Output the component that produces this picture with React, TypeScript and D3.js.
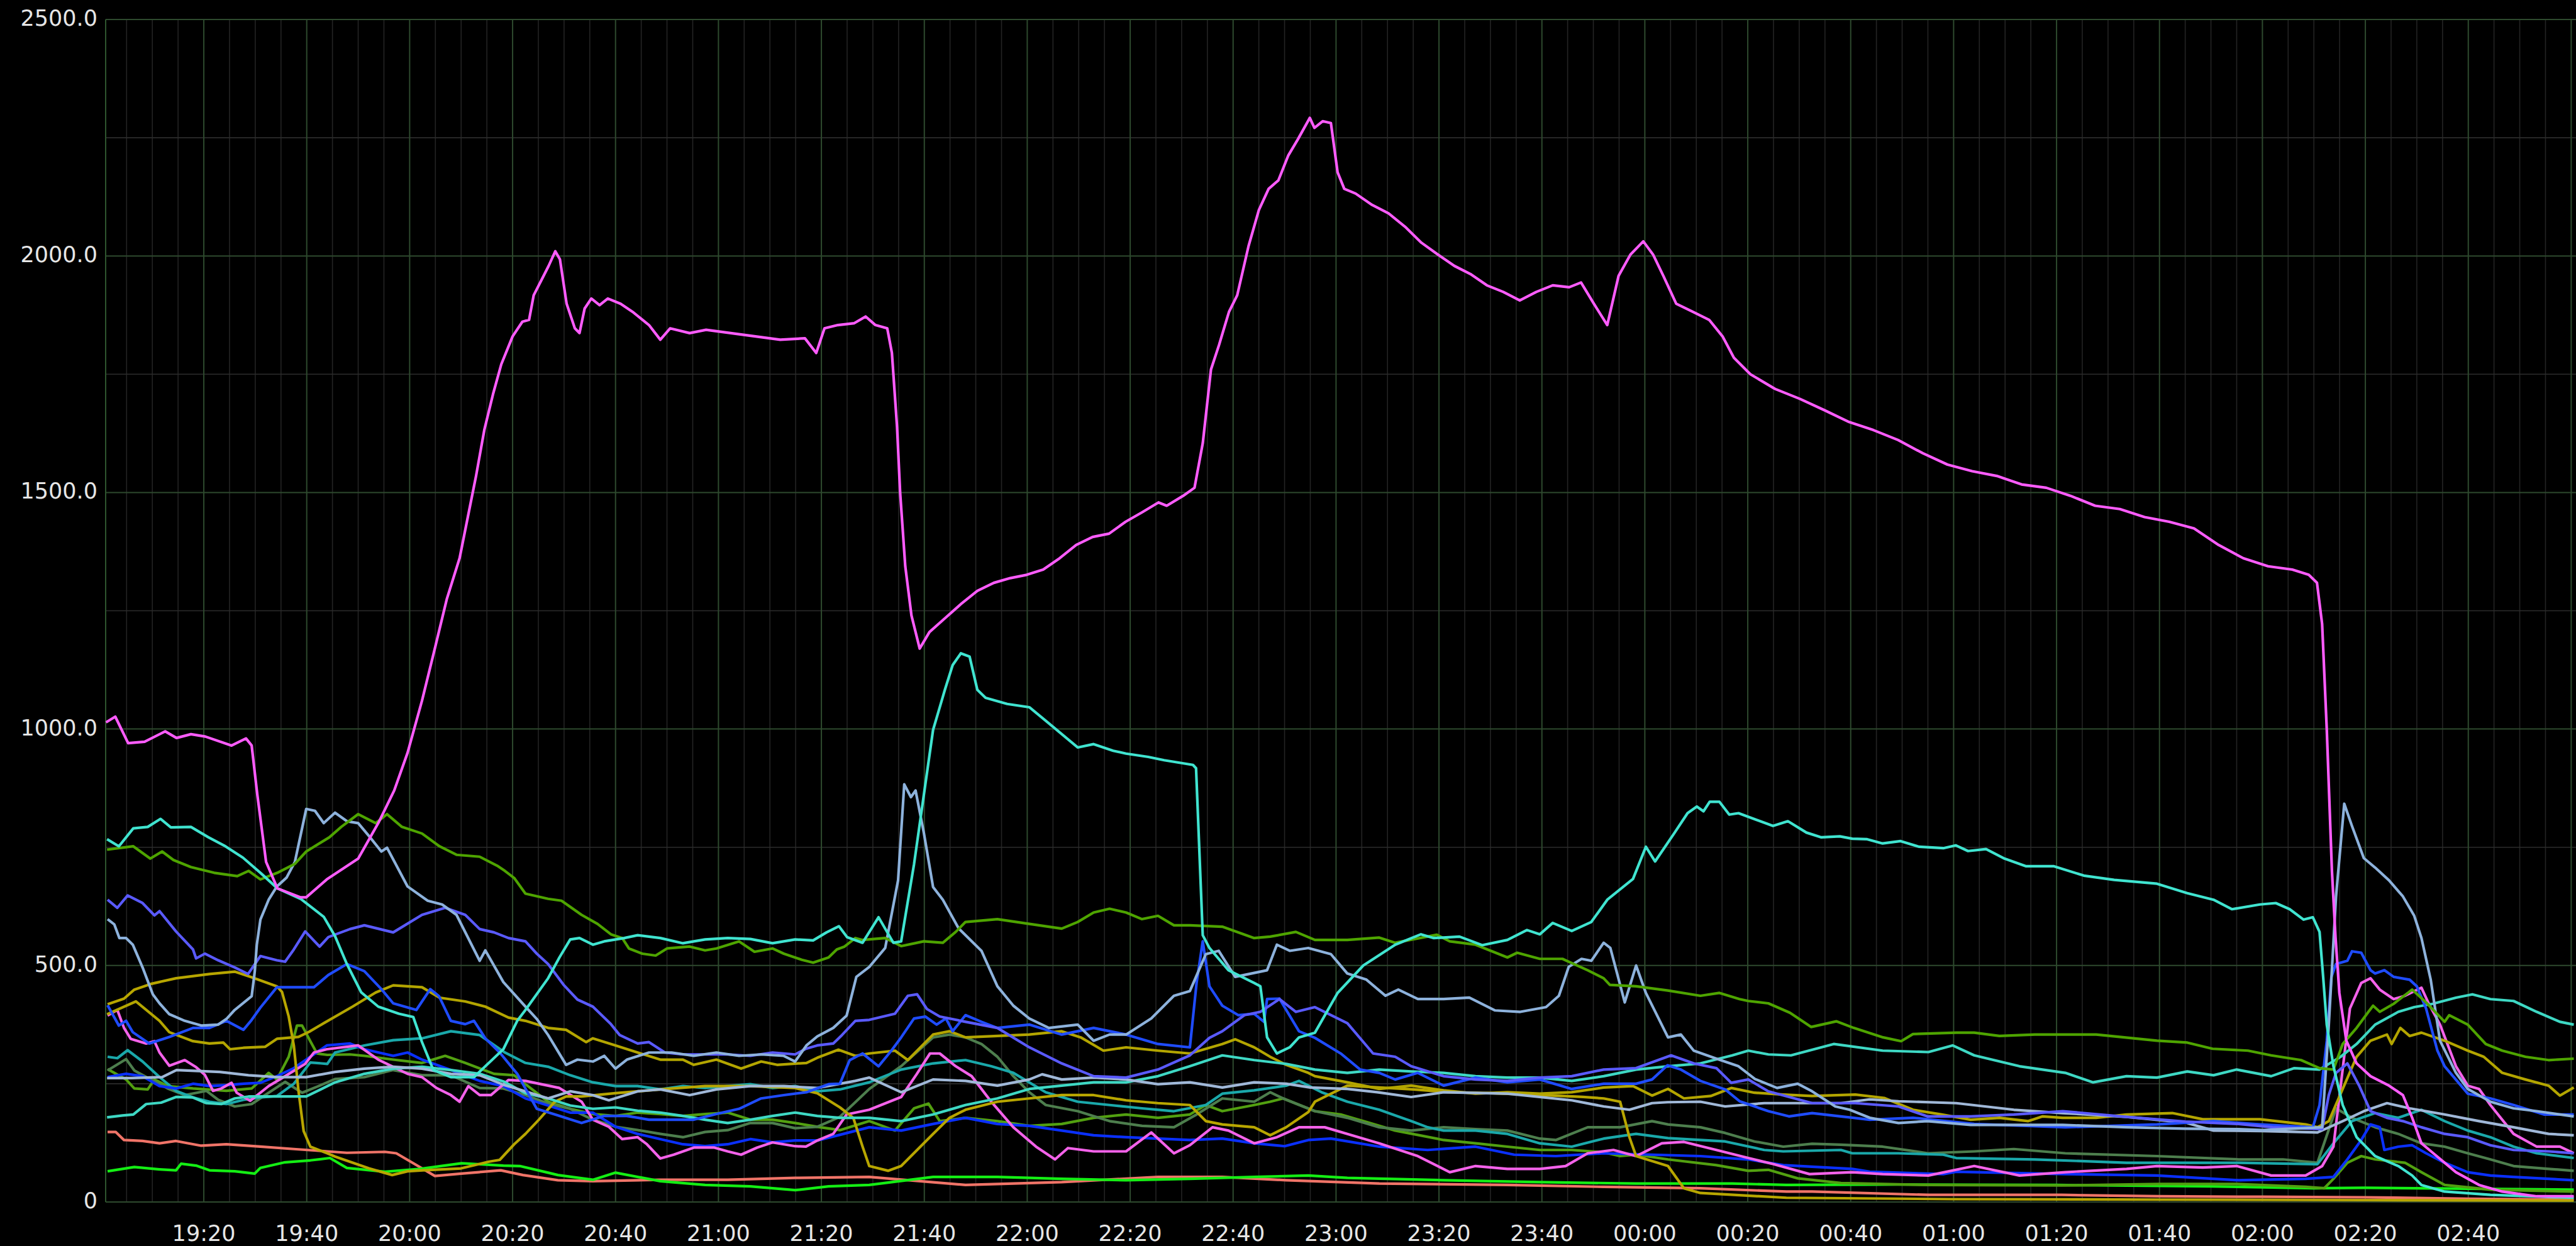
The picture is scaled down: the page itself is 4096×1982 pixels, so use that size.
import React, { useEffect } from 'react';
import * as d3 from 'd3';

// [minutes after 19:00, value]
type Pt = [number, number];

const yTickValues = [0, 500, 1000, 1500, 2000, 2500];
const yTickLabels = ['0', '500.0', '1000.0', '1500.0', '2000.0', '2500.0'];

const xTickMinutes = [20, 40, 60, 80, 100, 120, 140, 160, 180, 200, 220, 240, 260, 280, 300, 320, 340, 360, 380, 400, 420, 440, 460];
const xTickLabels = ['19:20', '19:40', '20:00', '20:20', '20:40', '21:00', '21:20', '21:40', '22:00', '22:20', '22:40', '23:00', '23:20', '23:40', '00:00', '00:20', '00:40', '01:00', '01:20', '01:40', '02:00', '02:20', '02:40'];

const magentaTop: Pt[] = [[1,1014],[2.8,1026],[5.3,970],[8.5,973],[12.5,995],[14.7,981],[17.5,989],[20.3,984],[25.4,965],[28.2,980],[29.3,965],[30.4,861],[32.1,719],[34.3,663],[38.8,644],[39.9,644],[43.9,682],[50,726],[53.9,801],[57,870],[59.6,950],[62.4,1060],[65,1175],[67.2,1274],[69.7,1361],[71.3,1448],[72.9,1535],[74.5,1632],[76.2,1708],[77.8,1771],[80,1830],[81.9,1861],[83.2,1865],[84.1,1917],[85.7,1951],[87,1979],[88.3,2010],[89.2,1993],[90.5,1899],[92.1,1847],[93,1837],[94,1889],[95.3,1910],[96.9,1896],[98.5,1910],[101,1899],[103.3,1882],[106.5,1854],[108.7,1823],[110.6,1847],[114.4,1837],[117.6,1844],[122.4,1837],[127.2,1830],[132,1823],[136.8,1826],[139,1795],[140.6,1847],[143.2,1854],[146.4,1858],[148.6,1872],[150.5,1854],[152.8,1847],[153.7,1795],[154.7,1639],[155.3,1500],[156.3,1344],[157.5,1240],[159.1,1170],[161,1205],[163.9,1233],[167.1,1264],[170.3,1292],[173.5,1309],[176.7,1319],[179.9,1326],[183.1,1337],[186.3,1361],[189.5,1389],[192.7,1406],[195.9,1413],[199.1,1438],[202.3,1458],[205.5,1479],[207.1,1472],[210.3,1493],[212.5,1510],[214.1,1604],[215.7,1760],[217.3,1813],[219.2,1882],[220.8,1917],[223,2021],[225,2097],[226.9,2142],[228.8,2160],[230.7,2212],[232.6,2247],[234.9,2292],[235.8,2271],[237.4,2285],[239,2281],[240.3,2177],[241.6,2142],[243.8,2132],[247,2108],[250.2,2090],[253.4,2062],[256.6,2028],[259.8,2003],[263,1979],[266.1,1962],[269.3,1938],[272.5,1924],[275.7,1906],[278.9,1924],[282.1,1938],[285.3,1934],[287.6,1944],[290.1,1899],[292.7,1854],[294.9,1958],[297.2,2003],[299.7,2031],[301.6,2003],[303.6,1958],[306.1,1899],[309.3,1882],[312.5,1865],[315.1,1830],[317.3,1785],[320.5,1750],[325.3,1719],[330.1,1698],[334.9,1674],[339.7,1649],[344.4,1632],[349.2,1611],[354,1583],[358.8,1559],[363.6,1545],[368.4,1535],[373.2,1517],[378,1510],[382.7,1493],[387.5,1472],[392.3,1465],[397.1,1448],[401.9,1438],[406.7,1424],[411.5,1389],[416.3,1361],[421.1,1344],[425.8,1337],[429,1326],[430.6,1309],[431.6,1222],[432.5,1000],[433.5,701],[434.2,560],[434.95,442],[436.3,341],[438.3,293],[441,266],[444.6,246],[447.3,226],[449.1,178],[450.9,124],[453.1,104],[457.6,63],[462.1,36],[466.6,22],[473.3,12],[480.5,12]];

const magentaLow: Pt[] = [[1.3,394],[3.2,406],[4.5,368],[5.8,345],[8.8,335],[10.4,340],[11.4,316],[13.3,288],[16.3,300],[18.5,285],[20.2,269],[21.8,235],[23.4,240],[25.4,252],[26.4,231],[29,214],[31,231],[32.6,245],[35.8,266],[39.7,292],[41.4,316],[43.9,323],[50,331],[53.9,301],[59.6,271],[62.4,264],[65.2,241],[68,226],[69.7,212],[71.4,245],[73.6,226],[75.8,226],[79.2,258],[82.5,256],[89.1,241],[93.4,212],[95.6,174],[98.7,159],[101.3,133],[104.3,137],[106.1,122],[108.7,92],[111.3,100],[115.2,115],[119.2,115],[121.8,107],[124.4,100],[127.5,115],[130.5,126],[134.9,118],[137,117],[139.2,130],[142.3,144],[144.9,185],[149.3,195],[155.5,222],[158.5,270],[161.1,314],[163,314],[166.1,287],[169.2,266],[173,212],[177.3,158],[181.7,117],[185.4,90],[187.9,114],[192.9,107],[199.2,107],[204.1,147],[208.5,103],[211.6,120],[216,158],[219.1,151],[224.1,124],[228.5,137],[232.8,158],[237.8,158],[242.2,144],[248.4,124],[255.9,97],[262.1,63],[267.1,76],[273.3,70],[279.6,70],[284.6,76],[288.9,103],[293.9,110],[298.3,97],[303.3,124],[307.6,127],[313.9,110],[320.1,93],[325,80],[332,59],[340.3,63],[346.2,59],[355.1,56],[364,76],[372.8,56],[381.7,63],[393.6,70],[399.5,76],[408.4,73],[415,76],[421.7,56],[428.4,56],[431.6,76],[433.8,117],[437,409],[439.2,463],[441,473],[442.8,449],[445.5,429],[447.7,436],[450.9,453],[452.2,422],[454.5,375],[457.6,287],[459.9,246],[462.1,239],[464.3,205],[468.8,144],[473.3,117],[477.8,117],[480.5,103]];

const turquoiseTop: Pt[] = [[1.2,767],[3.5,752],[6.3,790],[9.1,793],[11.6,810],[13.6,792],[17.5,793],[20.9,771],[24.2,752],[27.6,728],[31,696],[34.3,663],[38.8,641],[43.3,603],[45.5,562],[47.8,503],[50.6,443],[53.9,413],[57.9,398],[60.7,391],[62.4,338],[64.6,279],[68,264],[72.5,264],[75,290],[78.2,323],[80.9,383],[82.5,406],[86.9,473],[89.1,517],[91.2,555],[93,558],[95.6,544],[97.8,551],[101.7,558],[104.3,564],[108.7,558],[113.1,547],[117.4,555],[121.8,558],[126.2,556],[130.5,547],[134.9,555],[138.4,553],[141,570],[143.4,583],[145,560],[148,548],[151.1,602],[154,548],[155.5,551],[158,714],[160.2,883],[161.7,998],[163,1046],[164,1083],[165.5,1135],[167.1,1160],[168.8,1153],[170.3,1083],[171.9,1066],[176.1,1053],[180.4,1046],[184.2,1012],[189.8,961],[192.9,968],[196.7,954],[199.2,948],[203.5,941],[206.6,934],[212.2,924],[212.8,917],[214.1,564],[215.4,537],[219.1,490],[224.1,463],[225.3,456],[226.6,348],[228.5,314],[231,327],[232.8,348],[235.9,358],[240.3,442],[245.3,500],[251.5,544],[256.5,566],[259,558],[264,561],[268.4,543],[273.3,554],[277.1,575],[279.6,566],[282.1,590],[285.8,573],[289.6,592],[292.7,639],[297.7,683],[300.2,751],[302,720],[305.8,781],[308.3,822],[310.1,836],[311.4,826],[312.6,846],[314.5,846],[316.4,819],[318.2,822],[321.4,809],[324.9,795],[327.8,805],[331.4,781],[334.3,771],[337.9,773],[340.3,768],[343.2,767],[346.2,758],[349.7,763],[353.3,751],[358,748],[360.4,754],[362.8,742],[366.3,746],[369.9,726],[374,710],[379.4,710],[385.3,690],[391.2,681],[399.5,673],[405.4,653],[410.5,639],[414.1,619],[419.5,629],[422.6,632],[425.3,619],[428,597],[429.8,602],[431.1,571],[431.8,476],[432.5,375],[433.8,287],[435.6,205],[438.3,137],[441.9,97],[446.4,76],[449.1,56],[450.9,36],[455.4,22],[464.3,15],[480.5,9]];

const turquoiseLow: Pt[] = [[1.2,179],[4.2,183],[6.3,185],[8.8,207],[11.7,210],[14.6,222],[17.9,221],[20.5,209],[23.4,207],[26,219],[28.7,223],[34.3,223],[39.9,223],[45.5,253],[51.2,271],[56.8,282],[62.4,286],[68,279],[73.6,271],[78.2,255],[82.5,230],[86.9,219],[91.2,204],[95.6,197],[100,200],[104.3,193],[108.7,189],[113.1,182],[117.4,174],[121.8,167],[126.2,174],[130.5,182],[134.9,189],[139.2,182],[143.6,178],[149.3,178],[155.5,171],[161.7,185],[168,205],[174.2,219],[180.4,239],[186.7,246],[192.9,253],[199.2,253],[205.4,266],[211.6,287],[217.9,310],[224.1,300],[230.3,292],[235.9,280],[242.2,273],[248.4,280],[254.6,276],[260.9,273],[267.1,266],[273.3,263],[279.6,263],[285.8,256],[292,266],[298.3,280],[304.5,287],[310.8,293],[317,310],[320.1,320],[324,312],[328.4,310],[336.7,334],[346.2,320],[355.1,317],[359.8,331],[364,310],[372.8,287],[381.7,273],[387.1,253],[393.6,266],[399.5,263],[405.4,276],[410.5,268],[415,280],[421.7,266],[426.2,283],[431.1,280],[435.2,307],[438.3,334],[441.9,375],[446.4,402],[449.5,412],[453.1,419],[457.6,432],[460.8,439],[464.3,429],[468.8,425],[473.3,402],[477.8,381],[480.5,375]];

const steelBlue: Pt[] = [[1.3,598],[2.6,587],[3.6,558],[4.9,558],[6.2,544],[8.1,496],[10.1,439],[11.4,420],[13.3,397],[16.3,383],[19.5,373],[22.8,375],[24.4,387],[26,406],[29.3,435],[29.9,487],[30.3,544],[31,597],[32.6,639],[34.2,667],[36.1,686],[37.7,719],[39.9,831],[41.6,827],[43.3,801],[45.5,823],[47.8,805],[50,801],[52.3,771],[54.5,741],[55.6,749],[59.6,667],[63.5,637],[66.3,629],[69.1,607],[73.6,510],[74.7,532],[78.2,465],[82.5,413],[84.7,387],[86.9,353],[90.4,290],[92.6,301],[95.6,297],[97.8,309],[100,282],[102.2,301],[106.5,316],[110.9,316],[115.2,309],[119.6,316],[124,309],[128.3,312],[132.7,309],[134.9,297],[137.1,331],[139.2,350],[142.3,368],[144.9,394],[146.8,476],[149.3,497],[152.4,537],[154.9,680],[156.1,883],[157.4,856],[158.3,870],[159.9,781],[161.7,666],[163.6,639],[166.7,578],[171.1,531],[174.2,456],[177.3,415],[180.4,388],[184.2,368],[189.8,375],[192.9,341],[196,354],[199.2,354],[204.1,388],[208.5,436],[211.6,446],[214.7,524],[217.2,531],[220.4,476],[226.6,490],[228.5,544],[231,531],[234.6,537],[239,524],[242.2,483],[245.9,470],[249.6,436],[252.1,449],[255.9,429],[260.9,429],[265.9,432],[270.9,405],[275.8,402],[280.8,412],[283.3,436],[285.2,497],[287.7,514],[289.6,510],[292,548],[293.3,537],[296.1,422],[298.3,500],[300.2,442],[304.5,348],[307,354],[309.5,320],[313.9,303],[318.2,287],[321.4,260],[325.7,241],[329.7,250],[332.5,234],[337,202],[339.8,195],[343.7,178],[349.3,167],[354.9,171],[363.3,163],[371.7,163],[381.2,163],[393.6,158],[405,155],[415.4,154],[420,152],[431.6,158],[432.9,375],[434.3,646],[435.9,842],[437.4,795],[439.7,727],[441.9,707],[444.6,680],[447.3,646],[449.5,605],[450.9,558],[452.7,470],[454.5,341],[457.6,273],[459.9,239],[464.3,212],[468.8,198],[473.3,192],[480.5,181]];

const paleBlue: Pt[] = [[1.2,262],[6,262],[11.9,264],[14.7,279],[23.1,275],[28.7,268],[34.3,264],[39.9,264],[45.5,275],[51.2,282],[56.8,286],[62.4,282],[68,271],[73.6,268],[78.2,248],[82.5,234],[86.9,219],[91.2,234],[95.6,226],[98.7,215],[104.3,234],[108.7,238],[114.4,226],[119.6,238],[126.2,245],[132.7,245],[139.2,241],[146.6,256],[149.3,263],[155.5,232],[161.7,259],[168,256],[174.2,246],[180.4,259],[182.9,270],[186.7,259],[192.9,263],[199.2,259],[205.4,249],[211.6,253],[217.9,242],[224.1,253],[230.3,250],[235,242],[242.2,239],[248,232],[254.6,222],[260.9,232],[273.3,229],[285.8,215],[292,202],[297,195],[301.4,209],[304.4,211],[310.8,212],[315.6,202],[323.2,209],[327,209],[338.1,209],[343.7,217],[349.3,213],[360.5,209],[371.7,195],[381.2,188],[393.6,180],[405,168],[410.5,151],[420,150],[430.7,147],[435.6,171],[439.7,192],[444.2,209],[448.6,198],[455.4,185],[462.1,171],[468.8,158],[475.6,144],[480.5,141]];

const slateBlue: Pt[] = [[1.3,639],[3.2,622],[5.2,648],[8.1,632],[10.4,606],[11.4,615],[14.6,572],[17.9,534],[18.5,515],[20.2,525],[22.8,511],[26,496],[28.6,482],[31,520],[34.2,511],[35.8,508],[37.5,534],[39.7,572],[42.5,540],[44.2,560],[48.4,577],[51.2,585],[56.8,570],[62.4,607],[66.9,622],[70.8,607],[73.6,577],[76.4,570],[79.2,558],[82.5,551],[84.7,525],[86.9,503],[90,458],[92.6,428],[95.6,413],[99.1,376],[100.8,353],[104.3,335],[106.5,338],[109.6,316],[113.1,312],[117.4,312],[121.8,312],[126.2,309],[130.5,316],[134.9,312],[137,324],[139.2,331],[142.3,335],[144,353],[146.6,383],[149.3,385],[154.3,398],[156.8,436],[158.6,439],[160.5,408],[163,392],[168,381],[174.2,368],[180.4,327],[186.7,293],[192.9,266],[199.2,263],[205.4,280],[211.6,310],[215.4,347],[217.9,361],[222.2,395],[225.3,402],[229,429],[232.2,402],[235.9,412],[242.2,378],[247.2,314],[251.5,307],[254.6,287],[260.9,266],[267.1,259],[273.3,256],[279.6,263],[285.8,266],[292,280],[298.3,283],[305.1,310],[309.5,293],[313.9,283],[316.8,252],[320.1,259],[324,234],[332.5,209],[340.9,209],[349.3,202],[354.9,181],[363.3,181],[371.7,185],[381.2,192],[393.6,180],[405,170],[415.4,165],[422,158],[431.6,154],[432.9,226],[434.3,273],[436.5,293],[438.8,246],[441,192],[444.2,178],[447.3,171],[450.9,158],[455.4,144],[459.9,137],[464.3,120],[468.8,110],[475.6,107],[480.5,103]];

const blueMid: Pt[] = [[1.3,416],[3.5,373],[4.9,383],[6.2,359],[9.4,335],[13.3,349],[17.9,368],[21.1,368],[24.4,383],[27.7,364],[29.3,385],[31,411],[34.2,454],[37.5,454],[41.4,454],[44.2,480],[47.8,503],[51.2,488],[54.5,450],[56.8,420],[61.3,406],[64,450],[65.7,435],[68,383],[70.8,376],[72.5,383],[74.7,346],[77.5,316],[80.9,271],[82.5,240],[84.7,197],[89.1,182],[93.4,167],[97.8,182],[102.2,182],[106.5,174],[110.9,174],[115.2,174],[119.6,186],[124,197],[128.3,219],[132.7,226],[137.1,232],[141.4,249],[143.6,250],[145.5,300],[148,314],[151.1,287],[153.6,320],[155.5,348],[158,388],[160.2,392],[162.4,375],[164.2,388],[165.5,361],[168,395],[171.1,381],[174.2,368],[180.4,375],[186.7,354],[192.9,368],[199.2,354],[205.4,334],[211.6,327],[212.9,463],[214.1,551],[215.4,456],[217.9,415],[221,395],[224.1,398],[226,381],[226.6,429],[229,430],[232.8,361],[235.9,347],[240.9,314],[244.7,280],[248.4,273],[251.5,259],[255.9,273],[260.9,246],[267.1,263],[273.3,253],[279.6,259],[285.8,239],[292,250],[298.3,250],[301.4,259],[304.4,289],[307,280],[310.8,256],[315.6,238],[318.4,213],[324,192],[328,181],[332.5,188],[338.1,181],[343.7,174],[352.1,178],[364,165],[381.7,158],[399.5,164],[410.5,171],[419.5,164],[429.8,158],[431.1,205],[432.5,341],[433.4,476],[434.3,503],[436.5,510],[437.4,530],[439.2,527],[441,490],[441.9,483],[443.7,490],[445.5,476],[448.6,470],[450,456],[451.8,409],[454,320],[455.4,287],[459.9,229],[464.3,219],[468.8,205],[474.7,185],[480.5,185]];

const blueDeep: Pt[] = [[1.3,264],[4.9,271],[8.1,266],[11.4,245],[14.6,240],[17.9,250],[21.1,245],[24.4,247],[27.7,250],[31,252],[34.2,266],[37.5,283],[40.7,307],[43.9,331],[48.4,335],[51.2,323],[56.8,309],[59.6,316],[62.4,301],[68,279],[73.6,256],[78.2,245],[82.5,219],[86.9,204],[91.2,189],[95.6,189],[100,159],[104.3,144],[108.7,133],[113.1,122],[117.4,118],[121.8,122],[126.2,133],[130.5,126],[134.9,130],[139.2,130],[143.6,142],[149.3,158],[155.5,151],[161.7,165],[168,178],[174.2,165],[180.4,161],[186.7,151],[192.9,141],[199.2,137],[205.4,134],[211.6,131],[217.9,134],[224.1,124],[230,118],[234.6,131],[239,134],[248.4,117],[257.8,110],[267.1,117],[274.6,100],[282.7,97],[292,103],[301.4,100],[310.8,97],[320.1,90],[326.9,78],[340.3,70],[343.7,64],[358,59],[360.5,64],[381.7,59],[399.5,56],[415.4,46],[428.4,49],[433.8,53],[436.5,90],[439.2,131],[441,164],[442.8,158],[443.7,110],[446.4,117],[449.1,120],[451.8,103],[455.4,83],[459.9,63],[464.3,56],[468.8,53],[480.5,46]];

const oliveA: Pt[] = [[1.3,418],[4.5,430],[6.5,449],[9.7,461],[14.6,473],[21.1,482],[26,487],[29.3,475],[34.2,456],[35.2,444],[36.5,392],[37.5,330],[38.4,235],[39.4,150],[40.7,117],[44,103],[45.5,96],[52.1,71],[56.6,57],[59.6,65],[62.6,67],[70,71],[75.3,85],[77.5,89],[80.3,122],[82.5,144],[85.1,174],[88.2,212],[90.4,223],[93.4,223],[100,230],[108.7,238],[117.4,245],[126.2,245],[134.9,241],[139.2,230],[143.6,200],[146.2,178],[148,117],[149.3,76],[153,66],[155.5,76],[158.6,110],[161.7,144],[164.9,178],[168,195],[174.2,212],[180.4,219],[186.7,226],[192.9,226],[199.2,215],[205.4,209],[211.6,205],[214.7,171],[217.9,164],[224.1,158],[227.2,141],[230.3,158],[234.6,190],[235.9,212],[242.2,246],[248.4,242],[255,238],[262,232],[270,230],[280,226],[288,222],[292,219],[295.2,212],[297,137],[298.3,97],[304.5,76],[307.6,29],[310.8,19],[327.5,9],[360,6],[400,5],[440,4],[480.5,3]];

const oliveB: Pt[] = [[1.2,397],[6.8,424],[11.4,383],[13.3,359],[17.9,340],[21.1,335],[23.8,337],[25.1,323],[27.7,326],[31.9,328],[34.2,345],[38.4,349],[40.5,360],[43.3,378],[48.9,413],[53.4,443],[56.8,458],[62.4,454],[65.8,432],[70.8,424],[74.7,413],[79.2,390],[82.5,383],[86.9,368],[90.4,364],[94.3,338],[95.6,346],[100,331],[104.3,316],[108.7,301],[113.1,301],[115.2,290],[119.6,301],[124.4,282],[128.3,297],[131.4,290],[137.1,294],[139.2,305],[143.3,322],[146.6,309],[149.3,314],[154.3,320],[156.8,300],[161.7,354],[164.9,361],[168,348],[174.2,351],[180.4,354],[186.7,361],[190.4,348],[194.8,320],[199.2,327],[205.4,320],[211.6,314],[217.9,334],[220.4,344],[224.1,327],[227.2,307],[230.3,290],[234.6,273],[235.9,266],[242.2,253],[248.4,239],[254.6,246],[260.9,236],[267.1,229],[273.3,232],[279.6,229],[285.8,232],[292,242],[297.7,245],[301.4,225],[304.5,239],[307.6,219],[312.8,224],[316.8,241],[321.3,231],[326.9,227],[332.5,224],[340.9,227],[346.5,220],[352.1,195],[357.7,185],[363.3,174],[368.9,178],[374.5,171],[377.3,181],[381.2,178],[387.7,178],[393.6,185],[402.5,188],[408.4,175],[415.4,175],[419.5,175],[428.4,164],[430.7,158],[432.9,171],[435.6,239],[438.3,307],[441,341],[444.2,354],[445.1,334],[446.8,368],[448.6,351],[450.9,358],[455.4,341],[459.9,320],[463,307],[466.6,273],[471.1,259],[475.6,246],[477.8,225],[480.5,242]];

const greenTop: Pt[] = [[1.2,745],[6.3,752],[9.6,726],[11.9,741],[14.1,723],[17.5,708],[22,696],[26.5,689],[28.7,700],[31,682],[34.3,696],[37.7,715],[39.9,741],[44.4,771],[46.7,793],[50,820],[53.4,801],[55.6,820],[58.5,793],[62.4,779],[65.8,752],[69.1,734],[73.6,730],[77,711],[78.5,700],[80.3,685],[82.5,652],[86.9,641],[89.5,637],[93.4,607],[96.5,588],[99.1,566],[101.3,558],[102.6,536],[105.2,525],[107.8,521],[110,536],[114.4,540],[117.4,532],[119.6,536],[124,551],[127,529],[130.5,536],[132.7,525],[136.2,512],[138.4,506],[141.4,517],[143,534],[144.5,540],[146.6,558],[148,554],[152.4,558],[155.5,541],[159.9,551],[163.6,548],[166.1,571],[168,592],[174.2,598],[180.4,588],[186.7,578],[189.8,592],[192.9,612],[196,620],[199.2,612],[202.3,598],[205.4,605],[208.5,585],[211.6,585],[217.9,582],[224.1,558],[227.2,561],[232.2,571],[235.9,554],[242.2,554],[248.4,559],[251.5,548],[259.6,565],[262.1,551],[267.1,544],[273.3,517],[275.2,527],[279.6,514],[284,514],[288.9,490],[292,473],[293.2,459],[298.3,456],[304.5,447],[310.8,436],[314.5,442],[318.4,429],[320.1,425],[324,420],[328.2,400],[332.3,370],[337.2,382],[340.6,368],[346.3,348],[349.8,340],[352.1,355],[360.5,358],[364,358],[368.9,351],[375.8,354],[387.7,354],[399.5,341],[405.4,337],[410.3,324],[417.2,320],[421.7,310],[427.5,300],[431.1,283],[433.8,280],[435.6,334],[438.3,368],[440.6,402],[441.5,415],[442.8,402],[445.5,419],[449.1,449],[451.8,422],[455.4,381],[456.3,395],[459.9,375],[463.4,334],[466.6,320],[471.1,307],[475.6,300],[480.5,303]];

const greenLow: Pt[] = [[1.3,281],[4.9,259],[6.5,240],[9.1,238],[10.4,259],[13,245],[17.9,240],[24.4,235],[29.3,240],[32.6,273],[34.2,259],[36.5,307],[38.1,373],[39.1,373],[40.7,340],[42,314],[44,311],[48.4,312],[51.2,309],[56.8,301],[62.4,294],[66.9,309],[70.8,294],[76.4,271],[80.3,268],[82.5,249],[86.9,212],[91.2,197],[95.6,186],[100,182],[104.3,189],[108.7,186],[113.1,182],[117.4,186],[121.8,189],[126.2,174],[130.5,174],[134.9,167],[139.2,159],[143.6,152],[149.3,171],[154.3,151],[158,198],[160.8,208],[163,171],[168,178],[174.2,171],[180.4,161],[186.7,165],[192.9,178],[199.2,185],[205.4,178],[211.6,185],[214.7,205],[217.9,192],[224.1,205],[227.2,212],[229.7,219],[235.9,192],[240.9,185],[245.3,171],[251.5,151],[260.9,131],[267.1,124],[273.3,117],[279.6,110],[285.8,110],[292,105],[295.2,97],[298.3,100],[304.5,90],[313.9,78],[320.1,66],[324,68],[329.7,50],[338.1,40],[355,36],[381,35],[400,38],[415,38],[428.4,32],[432,29],[433.8,49],[436.5,83],[439.2,97],[441.9,90],[447.7,83],[450.9,63],[455.4,36],[464.3,26],[480.5,22]];

const lime: Pt[] = [[1.3,65],[6.5,74],[11.4,69],[14.6,67],[15.6,81],[18.5,77],[21.1,67],[26,65],[29.9,60],[31,72],[35.8,84],[40.7,88],[44.5,93],[47.8,72],[55.2,64],[62,70],[70.1,82],[78.2,77],[81.4,76],[86.9,62],[88.8,57],[95.6,47],[100,62],[108.7,44],[117.4,36],[126.2,33],[134.9,25],[141.4,33],[149.3,36],[161.7,53],[174.2,53],[186.7,49],[199.2,46],[211.6,49],[224.1,53],[234.6,56],[242.2,51],[260.9,46],[279.6,42],[298.3,39],[317,39],[327.5,36],[350,37],[380,36],[410,33],[430,29],[440,30],[460,28],[480.5,26]];

const salmon: Pt[] = [[1.3,148],[2.9,148],[4.5,131],[8.1,129],[11.4,124],[14.6,129],[19.5,119],[24.4,122],[31,117],[37.5,112],[44,107],[47.8,104],[55.2,106],[57.4,103],[61,80],[64.9,55],[70,60],[77.7,67],[82,57],[88.8,46],[95.6,44],[108.7,47],[121.8,47],[134.9,51],[149.3,53],[168,36],[186.7,42],[205.4,53],[217.9,53],[230.3,46],[248.4,39],[273.3,36],[292,32],[310.8,29],[327.5,22],[332.5,22],[355,15],[381,15],[400,12],[420,11],[440,10],[460,7],[480.5,5]];

const darkCyan: Pt[] = [[1.3,307],[3.2,304],[5.2,321],[8.1,297],[11.4,264],[14.6,235],[17.9,221],[21.1,212],[24.4,207],[27.7,216],[31,221],[34.2,224],[37.5,250],[40.7,295],[44,292],[45.5,316],[51.2,331],[56.8,342],[62.4,346],[68,361],[73.6,353],[78.5,316],[82.5,294],[86.9,286],[91.2,268],[95.6,253],[100,245],[104.3,245],[108.7,238],[113.1,245],[117.4,241],[121.8,245],[126.2,249],[130.5,241],[134.9,245],[139.2,234],[143.6,238],[149.3,253],[155.5,280],[161.7,293],[168,300],[173,287],[177.3,273],[183.6,232],[189.8,212],[196,205],[202.3,198],[208.5,192],[214.7,205],[217.9,229],[224.1,236],[230.3,246],[232.8,256],[237.2,232],[242.2,212],[248.4,195],[254.6,171],[257.8,158],[260.9,151],[267.1,151],[273.3,144],[279.6,124],[285.8,117],[292,134],[298.3,144],[304.5,135],[310.8,131],[315.6,128],[323.2,110],[326.9,107],[338.1,110],[340.3,103],[349.3,103],[358,100],[360.5,93],[375.8,90],[393.6,83],[415.4,83],[430.7,80],[433.8,124],[437.4,171],[441.9,188],[446.4,178],[450.9,195],[455.4,171],[459.9,151],[464.3,137],[468.8,117],[473.3,103],[480.5,93]];

const greyGreen: Pt[] = [[1.3,278],[4.9,302],[6.5,278],[9.7,259],[13,240],[16.3,226],[20.5,235],[22.8,216],[26,202],[29.3,207],[32.6,231],[35.8,254],[39.1,231],[42.3,245],[45.5,260],[51.2,264],[56.8,279],[62.4,268],[68,268],[73.6,241],[78.2,240],[82.5,226],[86.9,208],[91.2,197],[95.6,174],[100,159],[104.3,152],[108.7,144],[113.1,137],[117.4,148],[121.8,152],[126.2,167],[130.5,167],[134.9,156],[139.2,159],[143.6,180],[149.3,239],[155.5,287],[161.7,348],[164.9,354],[168,348],[171.1,334],[174.2,307],[177.3,266],[180.4,232],[183.6,205],[189.8,192],[196,171],[202.3,161],[208.5,158],[212.9,185],[217.9,219],[224.1,212],[227.2,232],[229.7,219],[235.9,192],[242.2,178],[248.4,158],[254.6,151],[260.9,158],[267.1,154],[273.3,151],[279.6,134],[282.7,131],[288.9,158],[295.2,158],[301.4,171],[304.5,164],[310.8,158],[315.6,146],[321.3,128],[326.9,117],[332.5,123],[338.1,121],[346.2,117],[355,103],[364,107],[371.7,112],[381.7,103],[399.5,97],[415.4,90],[424,90],[430.7,83],[434.3,198],[437.4,178],[441.9,158],[446.4,144],[450.9,124],[455.4,117],[459.9,103],[464.3,90],[468.8,76],[475.6,70],[480.5,66]];

// drawing order, bottom to top
const seriesList: { data: Pt[]; color: string }[] = [
  { data: salmon, color: '#f07468' },
  { data: lime, color: '#14ee14' },
  { data: greenLow, color: '#52a010' },
  { data: greyGreen, color: '#4d7e4d' },
  { data: darkCyan, color: '#1aa8aa' },
  { data: blueDeep, color: '#0a30ff' },
  { data: magentaLow, color: '#f462ea' },
  { data: oliveA, color: '#b8a600' },
  { data: oliveB, color: '#b3a500' },
  { data: turquoiseLow, color: '#3ed8c4' },
  { data: paleBlue, color: '#a0b8d8' },
  { data: blueMid, color: '#1f4cff' },
  { data: slateBlue, color: '#5a5aff' },
  { data: steelBlue, color: '#8db2dc' },
  { data: greenTop, color: '#4ea400' },
  { data: turquoiseTop, color: '#40e4d0' },
  { data: magentaTop, color: '#ff5cff' },
];

const W = 4096;
const H = 1982;
const plot = { left: 168, right: 4096, top: 31, bottom: 1912 };

export default function App() {
  useEffect(() => {
    document.body.style.margin = '0';
    document.body.style.background = '#000';
  }, []);

  const x = d3.scaleLinear().domain([0.93, 480.93]).range([plot.left, plot.right]);
  const y = d3.scaleLinear().domain([0, 2500]).range([plot.bottom, plot.top]);
  const line = d3.line<Pt>().x(d => x(d[0])).y(d => y(d[1]));

  const minorX = d3.range(5, 481, 5).filter(m => m % 20 !== 0);
  const majorX = d3.range(20, 481, 20);
  const minorY = d3.range(250, 2500, 500);

  return (
    <svg width={W} height={H} style={{ position: 'absolute', left: 0, top: 0, display: 'block', background: '#000' }}>
      <rect x={0} y={0} width={W} height={H} fill="#000" />
      <defs>
        <clipPath id="plot-clip">
          <rect x={plot.left} y={plot.top - 2} width={plot.right - plot.left} height={plot.bottom - plot.top + 4} />
        </clipPath>
      </defs>

      {/* grid */}
      <g>
        {minorX.map(m => (
          <line key={'mx' + m} x1={x(m)} x2={x(m)} y1={plot.top} y2={plot.bottom} stroke="#242424" strokeWidth={1.6} />
        ))}
        {minorY.map(v => (
          <line key={'my' + v} x1={plot.left} x2={plot.right} y1={y(v)} y2={y(v)} stroke="#2c2c2c" strokeWidth={1.6} />
        ))}
        {majorX.map(m => (
          <line key={'Mx' + m} x1={x(m)} x2={x(m)} y1={plot.top} y2={plot.bottom} stroke="#2e4a2e" strokeWidth={2} />
        ))}
        {yTickValues.map(v => (
          <line key={'My' + v} x1={plot.left} x2={plot.right} y1={y(v)} y2={y(v)} stroke="#2e4a2e" strokeWidth={2} />
        ))}
        <line x1={plot.left} x2={plot.left} y1={plot.top} y2={plot.bottom} stroke="#2e552e" strokeWidth={2} />
      </g>

      {/* series */}
      <g clipPath="url(#plot-clip)" fill="none" strokeWidth={4.2} strokeLinejoin="round">
        {seriesList.map((s, i) => (
          <path key={i} d={line(s.data) || ''} stroke={s.color} />
        ))}
      </g>

      {/* tick labels */}
      <g fontFamily="DejaVu Sans" fontSize={35} fill="#e6e6e6">
        {yTickValues.map((v, i) => (
          <text key={'yl' + v} x={plot.left - 13} y={y(v)} textAnchor="end" dominantBaseline="middle">
            {yTickLabels[i]}
          </text>
        ))}
        {xTickMinutes.map((m, i) => (
          <text key={'xl' + m} x={x(m)} y={1974} textAnchor="middle">
            {xTickLabels[i]}
          </text>
        ))}
      </g>
    </svg>
  );
}
